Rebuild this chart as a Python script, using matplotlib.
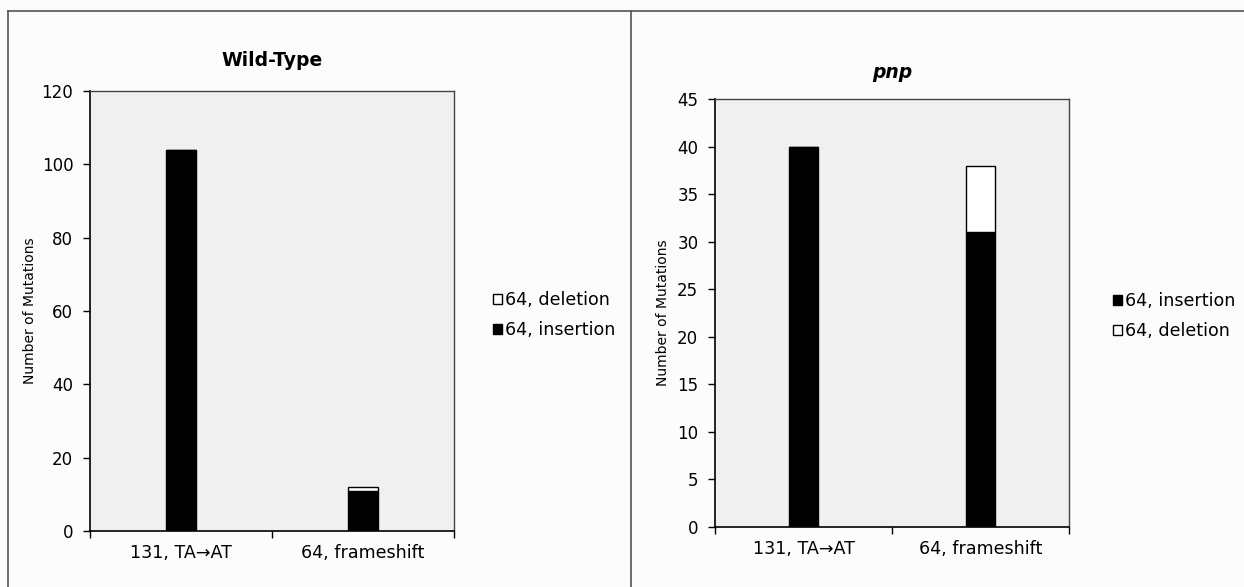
import matplotlib
matplotlib.use("Agg")
import matplotlib.pyplot as plt
from matplotlib.patches import Patch
from matplotlib.lines import Line2D

# Mutation counts per reversion site
categories = ["131, TA\u2192AT", "64, frameshift"]

wt_insertion = [104, 11]
wt_deletion = [0, 1]

pnp_insertion = [40, 31]
pnp_deletion = [0, 7]

wt_yticks = [0, 20, 40, 60, 80, 100, 120]
pnp_yticks = [0, 5, 10, 15, 20, 25, 30, 35, 40, 45]

W, H = 1244, 587
fig = plt.figure(figsize=(W / 100, H / 100), dpi=100)
fig.patch.set_facecolor("#fcfcfd")

PLOT_BG = "#f0f0f0"
TICK_FS = 12
BAR_W = 0.165


def px_axes(left, top, right, bottom):
    return fig.add_axes([left / W, 1 - bottom / H, (right - left) / W, (bottom - top) / H])


def style_axes(ax, ymax, yticks):
    ax.set_facecolor(PLOT_BG)
    ax.set_xlim(-0.5, 1.5)
    ax.set_ylim(0, ymax)
    ax.set_yticks(yticks)
    ax.set_xticks([-0.5, 0.5, 1.5])
    ax.set_xticklabels([])
    ax.set_xticks([0, 1], minor=True)
    ax.set_xticklabels(categories, minor=True)
    ax.tick_params(axis="x", which="minor", length=0, pad=9, labelsize=12.6)
    ax.tick_params(axis="x", which="major", length=5, width=1, direction="out")
    ax.tick_params(axis="y", length=5, width=1, direction="out", labelsize=TICK_FS, pad=7)
    for side in ["left", "bottom"]:
        ax.spines[side].set_color("black")
        ax.spines[side].set_linewidth(1.2)
    for side in ["top", "right"]:
        ax.spines[side].set_color("#444444")
        ax.spines[side].set_linewidth(1.0)


def add_legend(ax, handles, left_px, center_px):
    ax.legend(handles=handles, loc="center left",
              bbox_to_anchor=(left_px / W, 1 - center_px / H),
              bbox_transform=fig.transFigure, frameon=False, fontsize=12.6,
              borderpad=0, borderaxespad=0,
              handlelength=0.5, handleheight=0.5, handletextpad=0.2,
              labelspacing=0.68)


x = list(range(len(categories)))
ins_patch = Patch(facecolor="black", edgecolor="black", label="64, insertion")
del_patch = Patch(facecolor="white", edgecolor="black", label="64, deletion")

# Wild-type panel
ax1 = px_axes(90, 91, 454, 531)
style_axes(ax1, 120, wt_yticks)
ax1.bar(x, wt_insertion, width=BAR_W, color="black", edgecolor="black", linewidth=1)
ax1.bar(x, wt_deletion, width=BAR_W, bottom=wt_insertion, color="white",
        edgecolor="black", linewidth=1)
fig.text(272 / W, 1 - 60 / H, "Wild-Type", ha="center", va="center",
         fontsize=13.5, fontweight="bold")
fig.text(30 / W, 1 - 311 / H, "Number of Mutations", rotation=90,
         ha="center", va="center", fontsize=10)
add_legend(ax1, [del_patch, ins_patch], 493, 315)

# pnp panel
ax2 = px_axes(715, 99, 1069, 527)
style_axes(ax2, 45, pnp_yticks)
ax2.bar(x, pnp_insertion, width=BAR_W, color="black", edgecolor="black", linewidth=1)
ax2.bar(x, pnp_deletion, width=BAR_W, bottom=pnp_insertion, color="white",
        edgecolor="black", linewidth=1)
fig.text(892 / W, 1 - 72 / H, "pnp", ha="center", va="center",
         fontsize=13.5, fontweight="bold", fontstyle="italic")
fig.text(663 / W, 1 - 313 / H, "Number of Mutations", rotation=90,
         ha="center", va="center", fontsize=10)
add_legend(ax2, [ins_patch, del_patch], 1113, 316)

# panel frame lines
frame_kw = dict(color="#555555", linewidth=1.2, transform=fig.transFigure)
fig.add_artist(Line2D([8 / W, 8 / W], [0, 1 - 11 / H], **frame_kw))
fig.add_artist(Line2D([8 / W, 1], [1 - 11 / H, 1 - 11 / H], **frame_kw))
fig.add_artist(Line2D([631 / W, 631 / W], [0, 1 - 11 / H], **frame_kw))

fig.savefig("out.png", dpi=100, facecolor=fig.get_facecolor())
